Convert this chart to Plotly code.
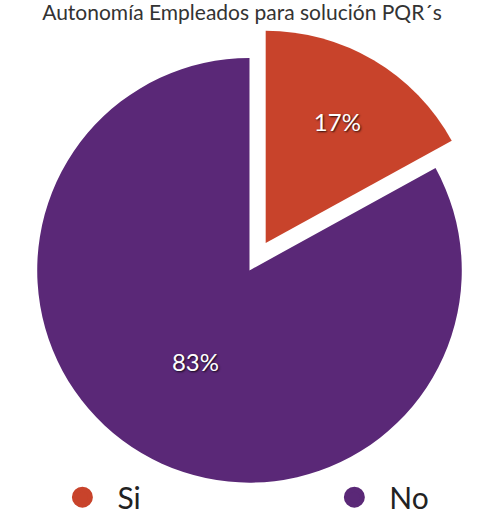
import plotly.graph_objects as go

# Survey answers: do employees have autonomy to resolve PQRs?
labels = ["Si", "No"]
values = [17, 83]
colors = ["#C8432B", "#5A2877"]
pulls = [0.15, 0]

title_text = "Autonomía Empleados para solución PQR´s"

fig = go.Figure()

fig.add_trace(go.Pie(
    labels=labels,
    values=values,
    marker=dict(colors=colors, line=dict(width=0)),
    pull=pulls,
    sort=False,
    direction="clockwise",
    rotation=0,
    textinfo="percent",
    texttemplate="%{percent:.0%}",
    textposition="inside",
    insidetextfont=dict(family="Lato", size=24, color="white",
                        shadow="1px 1px 2px rgba(0,0,0,0.8)"),
    showlegend=False,
    hoverinfo="label+percent",
    domain=dict(x=[0.01, 0.99], y=[0.02, 0.95]),
))

# Round legend markers, one legend box per answer so they sit far apart
legend_refs = ["legend", "legend2"]
for lab, col, lg in zip(labels, colors, legend_refs):
    fig.add_trace(go.Scatter(
        x=[None], y=[None], mode="markers", name=lab,
        marker=dict(symbol="circle", size=26, color=col,
                    line=dict(width=6, color=col)),
        showlegend=True, hoverinfo="skip", legend=lg,
    ))

legend_style = dict(orientation="h", y=0.053, yanchor="middle",
                    font=dict(family="Lato", size=30, color="#222222"),
                    bgcolor="rgba(0,0,0,0)", itemsizing="trace", itemwidth=60,
                    xanchor="left")

fig.update_layout(
    width=499, height=525,
    margin=dict(l=0, r=0, t=0, b=0),
    paper_bgcolor="white", plot_bgcolor="white",
    title=dict(text=title_text, x=0.485, xanchor="center", y=0.975, yanchor="middle",
               font=dict(family="Lato", size=21, color="#333333")),
    xaxis=dict(visible=False),
    yaxis=dict(visible=False),
    legend=dict(x=0.095, **legend_style),
    legend2=dict(x=0.64, **legend_style),
)

fig.write_html("out.html")
